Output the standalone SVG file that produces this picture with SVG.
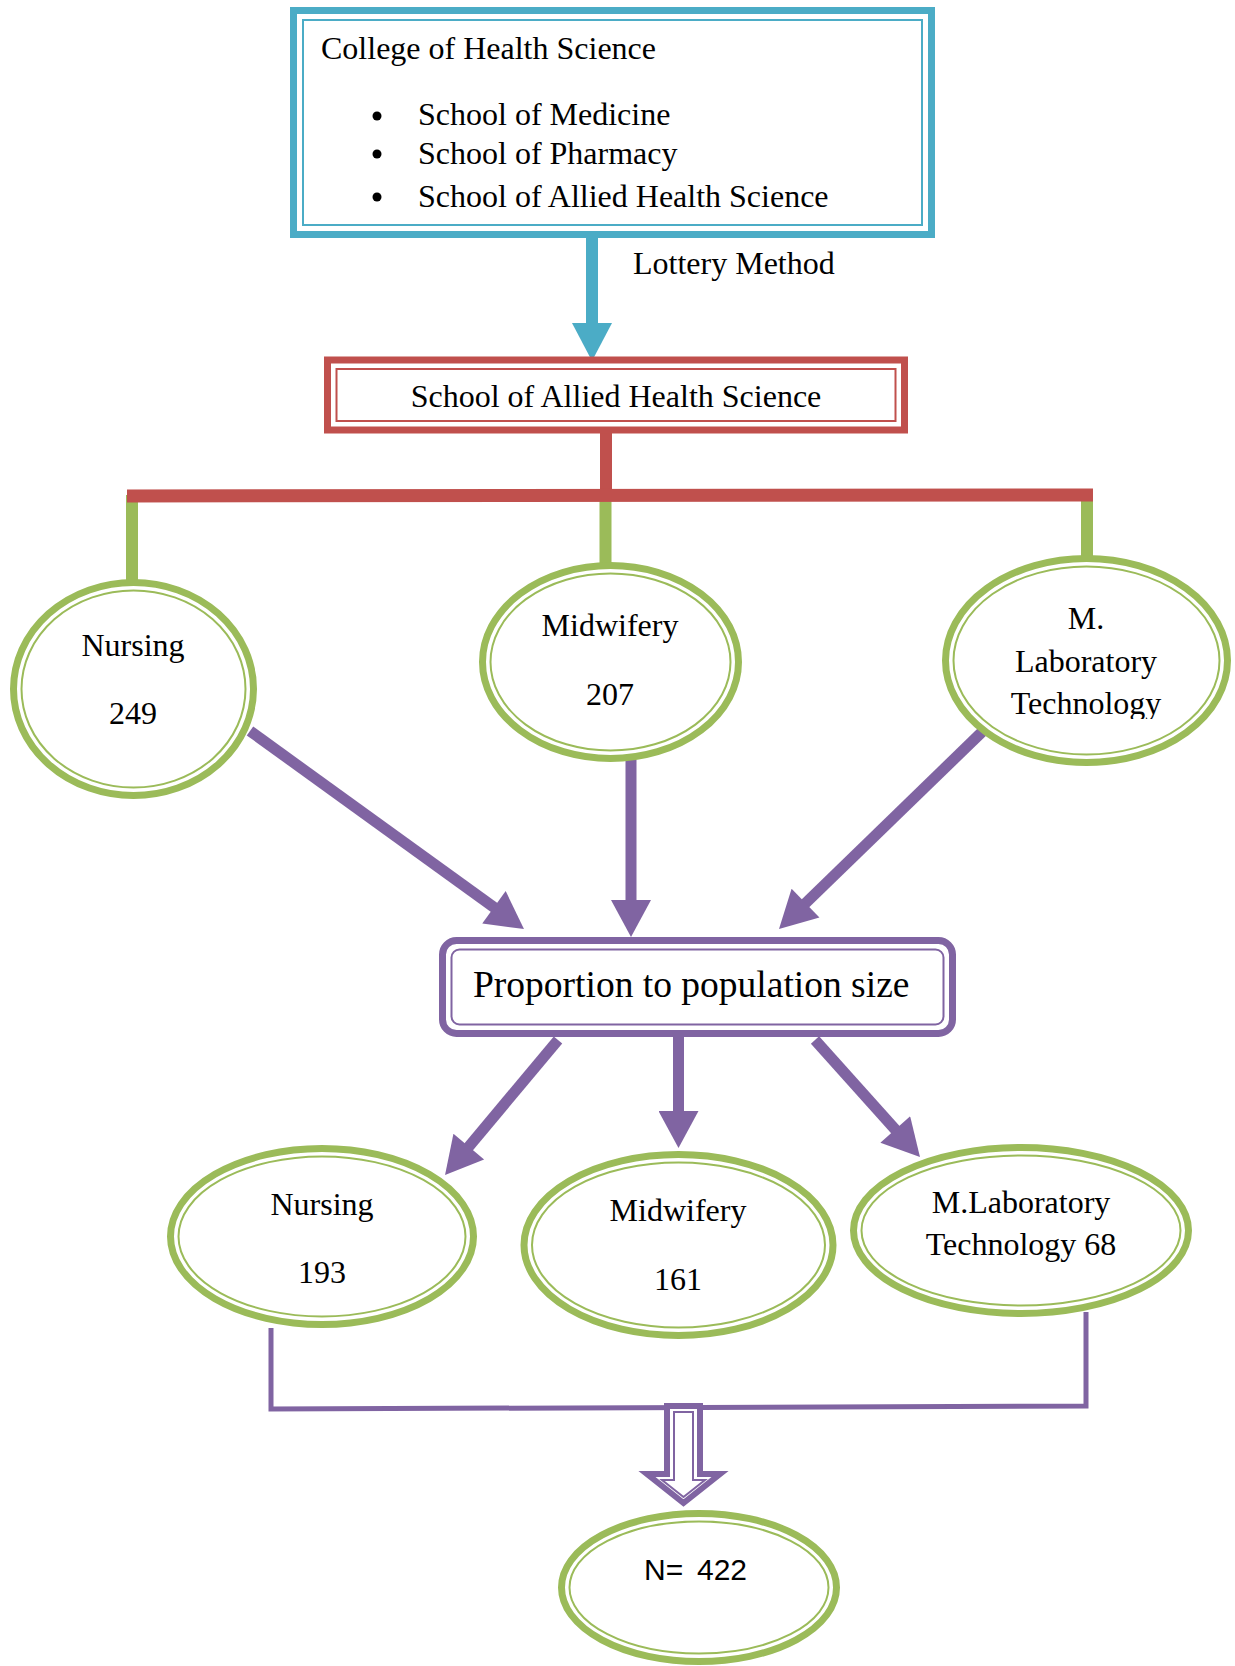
<svg xmlns="http://www.w3.org/2000/svg" width="1235" height="1666" viewBox="0 0 1235 1666">
<style>
.t{font-family:"Liberation Serif","Times New Roman",serif;font-size:32px;fill:#000}
.c{text-anchor:middle}
.s{font-family:"Liberation Sans",Arial,sans-serif;font-size:30px;fill:#000}
.gO{fill:#fff;stroke:#9BBB59;stroke-width:7}
.gI{fill:none;stroke:#9BBB59;stroke-width:2}
.pa{stroke:#8064A2;stroke-width:11;fill:none;marker-end:url(#ph)}
</style>
<defs>
<marker id="ph" markerUnits="userSpaceOnUse" markerWidth="40" markerHeight="40" viewBox="0 0 37 40" refX="2" refY="20" orient="auto">
<path d="M0,0 L37,20 L0,40 z" fill="#8064A2"/>
</marker>
<clipPath id="mlclip"><rect x="940" y="550" width="300" height="169"/></clipPath>
</defs>

<g id="connectors">
<!-- blue lottery arrow -->
<line x1="592" y1="236" x2="592" y2="325" stroke="#4BACC6" stroke-width="12"/>
<polygon points="572,323 612,323 592,361" fill="#4BACC6"/>
<!-- red stem -->
<line x1="606" y1="432" x2="606" y2="496" stroke="#C0504D" stroke-width="12"/>
<!-- green stems -->
<line x1="132" y1="495" x2="132" y2="582" stroke="#9BBB59" stroke-width="12"/>
<line x1="605.5" y1="495" x2="605.5" y2="564" stroke="#9BBB59" stroke-width="12"/>
<line x1="1087" y1="495" x2="1087" y2="557" stroke="#9BBB59" stroke-width="12"/>
<!-- red bar -->
<line x1="127" y1="496" x2="1093" y2="495" stroke="#C0504D" stroke-width="13"/>
<!-- purple arrows into proportion box -->
<line class="pa" x1="250" y1="731" x2="495.6" y2="908.5"/>
<line class="pa" x1="631" y1="760" x2="631" y2="902"/>
<line class="pa" x1="983" y1="731" x2="804.1" y2="904.6"/>
<!-- purple arrows out of proportion box -->
<line class="pa" x1="558" y1="1040" x2="467.5" y2="1148.2"/>
<line class="pa" x1="678.5" y1="1036" x2="678.5" y2="1113"/>
<line class="pa" x1="815" y1="1040" x2="896.6" y2="1131"/>
<!-- bottom collector -->
<polyline points="271,1328 271,1409 1086,1406 1086,1312" fill="none" stroke="#8064A2" stroke-width="5"/>
<!-- hollow arrow -->
<polygon points="667,1406 700,1406 700,1474 720,1474 683.5,1503 647,1474 667,1474" fill="#fff" stroke="#8064A2" stroke-width="6"/>
<polygon points="674,1412 693,1412 693,1480 705,1480 683.5,1497 662,1480 674,1480" fill="none" stroke="#8064A2" stroke-width="2"/>
</g>

<g id="college">
<rect x="293.5" y="10.5" width="638" height="224" fill="#fff" stroke="#4BACC6" stroke-width="7"/>
<rect x="303" y="20" width="619" height="205" fill="none" stroke="#4BACC6" stroke-width="2"/>
<text class="t" x="321" y="59">College of Health Science</text>
<circle cx="377" cy="116" r="4.5"/>
<circle cx="377" cy="154" r="4.5"/>
<circle cx="377" cy="197" r="4.5"/>
<text class="t" x="418" y="125">School of Medicine</text>
<text class="t" x="418" y="164">School of Pharmacy</text>
<text class="t" x="418" y="207">School of Allied Health Science</text>
</g>

<g id="lottery-label">
<text class="t" x="633" y="274">Lottery Method</text>
</g>

<g id="allied">
<rect x="327.5" y="360" width="577" height="70" fill="#fff" stroke="#C0504D" stroke-width="7"/>
<rect x="336.5" y="369" width="559" height="52" fill="none" stroke="#C0504D" stroke-width="2"/>
<text class="t c" x="616" y="407">School of Allied Health Science</text>
</g>

<g id="nursing-top">
<ellipse class="gO" cx="133.5" cy="689" rx="120" ry="106.5"/>
<ellipse class="gI" cx="133.5" cy="689" rx="112" ry="98.5"/>
<text class="t c" x="133" y="656">Nursing</text>
<text class="t c" x="133" y="724">249</text>
</g>

<g id="midwifery-top">
<ellipse class="gO" cx="610.5" cy="662" rx="128" ry="96.5"/>
<ellipse class="gI" cx="610.5" cy="662" rx="120" ry="88.5"/>
<text class="t c" x="610" y="636">Midwifery</text>
<text class="t c" x="610" y="705">207</text>
</g>

<g id="mlab-top">
<ellipse class="gO" cx="1086.5" cy="660.5" rx="141" ry="102"/>
<ellipse class="gI" cx="1086.5" cy="660.5" rx="133" ry="94"/>
<g clip-path="url(#mlclip)">
<text class="t c" x="1086" y="629">M.</text>
<text class="t c" x="1086" y="672">Laboratory</text>
<text class="t c" x="1086" y="714">Technology</text>
</g>
</g>

<g id="proportion">
<rect x="442.5" y="940.5" width="510" height="93" rx="14" fill="#fff" stroke="#8064A2" stroke-width="7"/>
<rect x="451.5" y="949.5" width="492" height="75" rx="8" fill="none" stroke="#8064A2" stroke-width="2"/>
<text class="t" x="473" y="997" style="font-size:37.5px">Proportion to population size</text>
</g>

<g id="nursing-bottom">
<ellipse class="gO" cx="322" cy="1236.5" rx="151.5" ry="88"/>
<ellipse class="gI" cx="322" cy="1236.5" rx="143.5" ry="80"/>
<text class="t c" x="322" y="1215">Nursing</text>
<text class="t c" x="322" y="1283">193</text>
</g>

<g id="midwifery-bottom">
<ellipse class="gO" cx="678.5" cy="1245" rx="154.5" ry="90.5"/>
<ellipse class="gI" cx="678.5" cy="1245" rx="146.5" ry="82.5"/>
<text class="t c" x="678" y="1221">Midwifery</text>
<text class="t c" x="678" y="1290">161</text>
</g>

<g id="mlab-bottom">
<ellipse class="gO" cx="1021" cy="1230.5" rx="167.5" ry="83"/>
<ellipse class="gI" cx="1021" cy="1230.5" rx="159.5" ry="75"/>
<text class="t c" x="1021" y="1213">M.Laboratory</text>
<text class="t c" x="1021" y="1255">Technology 68</text>
</g>

<g id="total">
<ellipse class="gO" cx="699" cy="1587.5" rx="137.5" ry="74"/>
<ellipse class="gI" cx="699" cy="1587.5" rx="129.5" ry="66"/>
<text class="s" x="644" y="1580" xml:space="preserve">N= <tspan x="697">422</tspan></text>
</g>
</svg>
